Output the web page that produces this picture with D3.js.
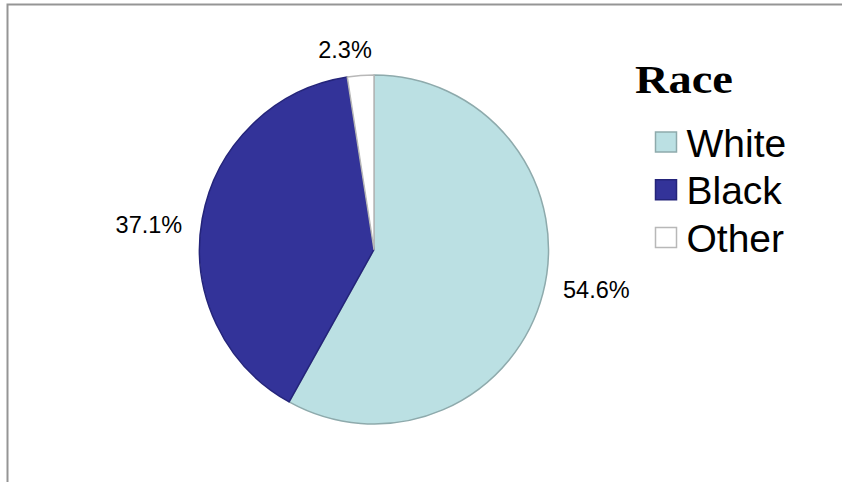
<!DOCTYPE html>
<html>
<head>
<meta charset="utf-8">
<script src="https://cdn.jsdelivr.net/npm/d3@7"></script>
<style>
  body { margin: 0; background: #fff; }
</style>
</head>
<body>
<div id="chart"></div>
<script>
var categories = ["White", "Black", "Other"];
var values = [54.6, 37.1, 2.3];
var valueLabels = ["54.6%", "37.1%", "2.3%"];
var legendTitle = "Race";

function drawRacePie() {
  "use strict";
  var viewportWidth = 842;
  var viewportHeight = 482;

  var fills = d3.scaleOrdinal().domain(categories).range(["#bbe0e3", "#333399", "#ffffff"]);
  var strokes = d3.scaleOrdinal().domain(categories).range(["#8eaaac", "#24247a", "#b8b8b8"]);

  var svg = d3.select("#chart").append("svg").
    attr("width", viewportWidth).
    attr("height", viewportHeight);

  // chart frame, open at right and bottom (cut off by the window)
  svg.append("rect").
    attr("x", 7.5).
    attr("y", 4.5).
    attr("width", 900).
    attr("height", 600).
    style("fill", "none").
    style("stroke", "#959595").
    style("stroke-width", 2);

  var cx = 374;
  var cy = 249.5;
  var radius = 174.5;

  var pie = d3.pie().sort(null).value(function(d) { return d; });
  var arc = d3.arc().innerRadius(0).outerRadius(radius);
  var arcs = pie(values);

  var g = svg.append("g").attr("transform", "translate(" + cx + "," + cy + ")");

  g.selectAll("path.slice").
    data(arcs).
    enter().append("path").
    attr("class", "slice").
    attr("d", arc).
    style("fill", function(d, i) { return fills(categories[i]); }).
    style("stroke", function(d, i) { return strokes(categories[i]); }).
    style("stroke-width", 1.5).
    style("stroke-linejoin", "round");

  // outside-end labels: the label box touches a circle a little outside the pie
  var gap = 19;
  var labelTurn = -0.055; // labels sit slightly counter-clockwise, as in the original
  var labels = g.selectAll("text.pct").
    data(arcs).
    enter().append("text").
    attr("class", "pct").
    attr("text-anchor", "middle").
    style("font-family", "'Liberation Sans', Arial, sans-serif").
    style("font-size", "23.5px").
    style("fill", "#000").
    text(function(d, i) { return valueLabels[i]; });

  labels.each(function(d) {
    var node = d3.select(this);
    var a = (d.startAngle + d.endAngle) / 2 + labelTurn;
    var w = this.getComputedTextLength();
    var h = 17;
    var px = Math.sin(a) * (radius + gap) + Math.sin(a) * w / 2;
    var py = -Math.cos(a) * (radius + gap) - Math.cos(a) * h / 2;
    node.attr("x", px).attr("y", py + h / 2);
  });

  // legend
  var legendX = 655;
  var legend = svg.append("g");

  legend.append("text").
    attr("x", 635).
    attr("y", 93).
    attr("textLength", 98).
    attr("lengthAdjust", "spacingAndGlyphs").
    style("font-family", "'Liberation Serif', 'Times New Roman', serif").
    style("font-weight", "bold").
    style("font-size", "41px").
    text(legendTitle);

  var rowY = d3.scalePoint().domain(categories).range([156.5, 252]);

  var rows = legend.selectAll("g.row").
    data(categories).
    enter().append("g").
    attr("class", "row").
    attr("transform", function(d) { return "translate(" + legendX + "," + rowY(d) + ")"; });

  rows.append("rect").
    attr("x", 0.5).
    attr("y", -24.5).
    attr("width", 21).
    attr("height", 20).
    style("fill", function(d) { return fills(d); }).
    style("stroke", function(d) { return strokes(d); }).
    style("stroke-width", 1.5);

  rows.append("text").
    attr("x", 31.5).
    attr("y", 0).
    style("font-family", "'Liberation Sans', Arial, sans-serif").
    style("font-size", "39px").
    text(function(d) { return d; });
}

drawRacePie();
</script>
</body>
</html>
